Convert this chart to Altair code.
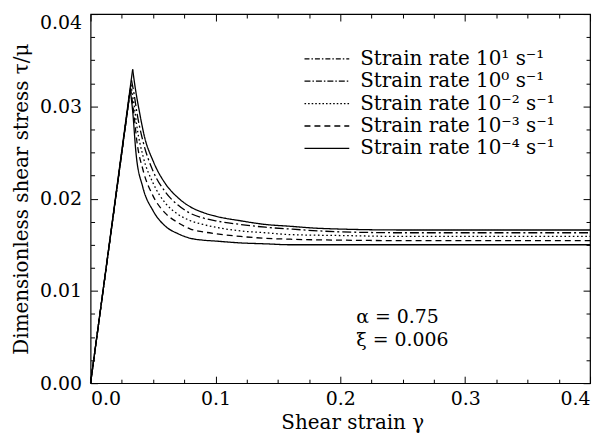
import altair as alt
import pandas as pd

# ---------------- data ----------------
curve_ids = ["top_solid", "dashdot", "dotted", "dashed", "bottom_solid"]

g_top = [0.0, 0.0337, 0.036, 0.039, 0.043, 0.05, 0.06, 0.07, 0.08, 0.09, 0.10, 0.12, 0.14, 0.16, 0.18, 0.20, 0.25, 0.30, 0.40]
t_top = [0.0, 0.0340, 0.0318, 0.0295, 0.0268, 0.0241, 0.0216, 0.0201, 0.0191, 0.0185, 0.0181, 0.0176, 0.0172, 0.0170, 0.0168, 0.0167, 0.0166, 0.0166, 0.0166]

g_dashdot = [0.0, 0.0328, 0.035, 0.037, 0.042, 0.05, 0.06, 0.07, 0.08, 0.09, 0.10, 0.12, 0.14, 0.16, 0.20, 0.25, 0.30, 0.40]
t_dashdot = [0.0, 0.0328, 0.0312, 0.0294, 0.0262, 0.0230, 0.0207, 0.0193, 0.0184, 0.0179, 0.0176, 0.0172, 0.0169, 0.0167, 0.0164, 0.0163, 0.0163, 0.0163]

g_dotted = [0.0, 0.0323, 0.035, 0.037, 0.042, 0.05, 0.06, 0.07, 0.08, 0.09, 0.10, 0.12, 0.14, 0.16, 0.20, 0.25, 0.30, 0.40]
t_dotted = [0.0, 0.0323, 0.0300, 0.0279, 0.0246, 0.0217, 0.0195, 0.0183, 0.0176, 0.0172, 0.0169, 0.0165, 0.0163, 0.0161, 0.0160, 0.0159, 0.0159, 0.0159]

g_dashed = [0.0, 0.0320, 0.035, 0.037, 0.042, 0.05, 0.06, 0.07, 0.08, 0.09, 0.10, 0.12, 0.14, 0.16, 0.20, 0.25, 0.30, 0.40]
t_dashed = [0.0, 0.0320, 0.0288, 0.0263, 0.0231, 0.0203, 0.0184, 0.0174, 0.0167, 0.0164, 0.0162, 0.0159, 0.0157, 0.0156, 0.0155, 0.01545, 0.01545, 0.01545]

g_bottom = [0.0, 0.0318, 0.0337, 0.0364, 0.0417, 0.05, 0.06, 0.07, 0.08, 0.09, 0.10, 0.12, 0.14, 0.16, 0.20, 0.25, 0.30, 0.40]
t_bottom = [0.0, 0.0318, 0.0295, 0.0249, 0.0213, 0.0187, 0.0170, 0.0162, 0.0157, 0.0155, 0.0154, 0.0152, 0.0151, 0.0150, 0.0150, 0.0150, 0.0150, 0.0150]

legend_labels = [
    "Strain rate 10¹ s⁻¹",
    "Strain rate 10⁰ s⁻¹",
    "Strain rate 10⁻² s⁻¹",
    "Strain rate 10⁻³ s⁻¹",
    "Strain rate 10⁻⁴ s⁻¹",
]

x_major = [0.0, 0.1, 0.2, 0.3, 0.4]
x_minor = [0.025, 0.05, 0.075, 0.125, 0.15, 0.175, 0.225, 0.25, 0.275, 0.325, 0.35, 0.375]
y_major = [0.0, 0.01, 0.02, 0.03, 0.04]
y_minor = [0.0025, 0.005, 0.0075, 0.0125, 0.015, 0.0175, 0.0225, 0.025, 0.0275, 0.0325, 0.035, 0.0375]

x_title = "Shear strain γ"
y_title = "Dimensionless shear stress τ/μ"
note_alpha = "α = 0.75"
note_xi = "ξ = 0.006"

# ---------------- styling ----------------
W, H = 502, 371
FONT = "DejaVu Serif"
curve_dashes = [[1, 0], [9, 3, 2, 3], [1.6, 2.6], [6, 4], [1, 0]]
curve_widths = [1.3, 1.3, 2.2, 1.3, 1.3]
legend_dashes = [[5, 2, 1.5, 2], [6, 2, 1.5, 2], [1.6, 2], [6, 4], [1, 0]]

# ---------------- build table ----------------
rows = []
for cid, gs, ts in zip(curve_ids,
                       [g_top, g_dashdot, g_dotted, g_dashed, g_bottom],
                       [t_top, t_dashdot, t_dotted, t_dashed, t_bottom]):
    for g, t in zip(gs[:2], ts[:2]):
        rows.append({"gamma": g, "tau": t, "style": cid, "seg": cid + "_rise"})
    for g, t in zip(gs[1:], ts[1:]):
        rows.append({"gamma": g, "tau": t, "style": cid, "seg": cid + "_decay"})
df = pd.DataFrame(rows)

xs = alt.Scale(domain=[0, 0.4], nice=False, zero=False)
ys = alt.Scale(domain=[0, 0.04], nice=False, zero=False)

main_x_axis = alt.Axis(orient="bottom", values=x_major, format=".1f", ticks=False, tickSize=0,
                       domain=False, grid=False, labelFont=FONT, labelFontSize=19,
                       labelColor="black", labelPadding=6, title=x_title, titleFont=FONT,
                       titleFontSize=20, titleFontWeight="normal", titleColor="black",
                       titlePadding=5, titleX=263)
main_y_axis = alt.Axis(orient="left", values=y_major, format=".2f", ticks=False, tickSize=0,
                       domain=False, grid=False, labelFont=FONT, labelFontSize=19,
                       labelColor="black", labelPadding=9,
                       labelBaseline={"condition": {"test": "datum.value >= 0.04", "value": "top"},
                                      "value": "middle"},
                       title=y_title, titleFont=FONT,
                       titleFontSize=20, titleFontWeight="normal", titleColor="black",
                       titlePadding=8)

curves = alt.Chart(df).mark_line(color="black", interpolate="monotone").encode(
    x=alt.X("gamma:Q", scale=xs, axis=main_x_axis),
    y=alt.Y("tau:Q", scale=ys, axis=main_y_axis),
    detail="seg:N",
    strokeDash=alt.StrokeDash("style:N", scale=alt.Scale(domain=curve_ids, range=curve_dashes), legend=None),
    strokeWidth=alt.StrokeWidth("style:N", scale=alt.Scale(domain=curve_ids, range=curve_widths), legend=None),
)


def tick_axis(orient, values, size):
    return alt.Axis(orient=orient, offset=-(H if orient in ("top", "bottom") else W),
                    values=values, labels=False, domain=False, grid=False, ticks=True,
                    tickSize=size, tickColor="black", tickWidth=1, title=None)


dummy = pd.DataFrame({"gamma": [0.0], "tau": [0.0]})


def tick_layer(xa, ya):
    return alt.Chart(dummy).mark_point(opacity=0).encode(
        x=alt.X("gamma:Q", scale=xs, axis=xa),
        y=alt.Y("tau:Q", scale=ys, axis=ya),
    )


ticks_a = tick_layer(tick_axis("top", x_major, 7), tick_axis("right", y_major, 7))
ticks_b = tick_layer(tick_axis("top", x_minor, 4), tick_axis("right", y_minor, 4))
ticks_c = tick_layer(tick_axis("bottom", x_major, 7), tick_axis("left", y_major, 7))
ticks_d = tick_layer(tick_axis("bottom", x_minor, 4), tick_axis("left", y_minor, 4))

legend_df = pd.DataFrame({"label": legend_labels, "gamma": [0.0] * 5, "tau": [0.0] * 5})
legend_layer = alt.Chart(legend_df).mark_line(color="black", strokeWidth=1.3).encode(
    x=alt.X("gamma:Q", scale=xs, axis=None),
    y=alt.Y("tau:Q", scale=ys, axis=None),
    strokeDash=alt.StrokeDash(
        "label:N",
        sort=legend_labels,
        scale=alt.Scale(domain=legend_labels, range=legend_dashes),
        legend=alt.Legend(orient="none", legendX=214, legendY=34, title=None,
                          symbolType="stroke", symbolSize=2025, symbolStrokeWidth=1.3,
                          symbolStrokeColor="black", clipHeight=22, rowPadding=0.5,
                          labelFont=FONT, labelFontSize=20, labelColor="black",
                          labelOffset=10, padding=0, labelLimit=400),
    ),
)

text_a = alt.Chart(pd.DataFrame({"t": [note_alpha]})).mark_text(
    align="left", baseline="middle", font=FONT, fontSize=19, color="black"
).encode(text="t:N", x=alt.value(267), y=alt.value(305))
text_b = alt.Chart(pd.DataFrame({"t": [note_xi]})).mark_text(
    align="left", baseline="middle", font=FONT, fontSize=19, color="black"
).encode(text="t:N", x=alt.value(267), y=alt.value(328))

chart = alt.layer(curves, ticks_a, ticks_b, ticks_c, ticks_d, legend_layer, text_a, text_b).resolve_scale(
    strokeDash="independent", strokeWidth="independent"
).resolve_axis(x="independent", y="independent").properties(
    width=W, height=H,
    autosize=alt.AutoSizeParams(type="none"),
    padding={"left": 83, "top": 5, "right": 8, "bottom": 50},
    background="white",
).configure_view(stroke="black", strokeWidth=1.2)

chart.save("out.html", embed_options={"renderer": "svg", "actions": False})
